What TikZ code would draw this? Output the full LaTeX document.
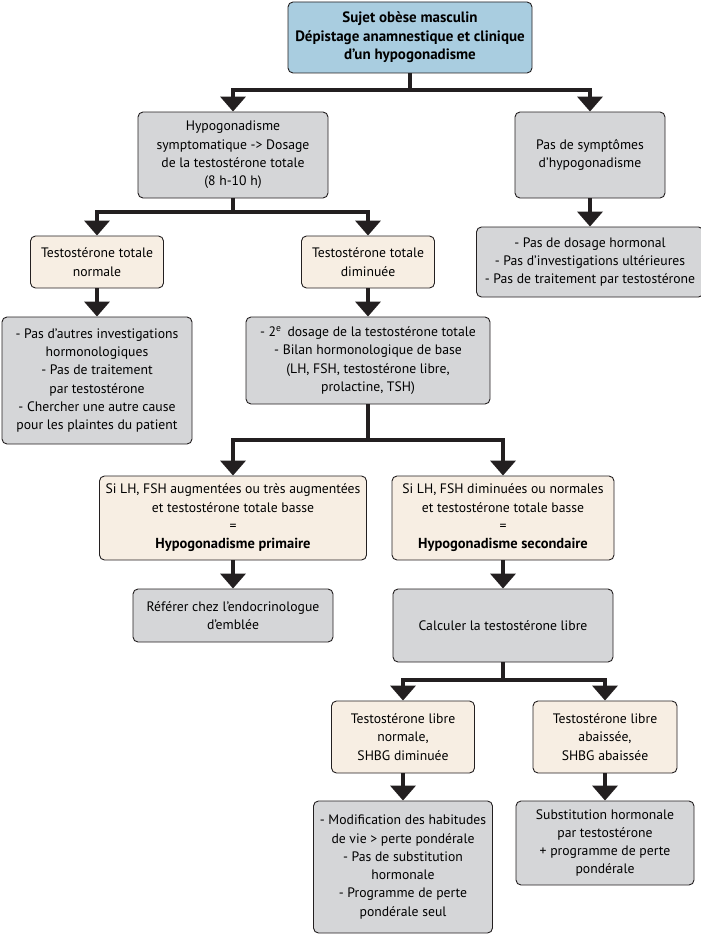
\documentclass[tikz,border=0pt]{standalone}
\usepackage{fontspec}
\setmainfont{PT Sans}
\usetikzlibrary{arrows.meta,positioning}
\definecolor{sky}{HTML}{A9CDE0}
\definecolor{ash}{HTML}{D5D6D8}
\definecolor{sand}{HTML}{F7EEE3}
\definecolor{ink}{HTML}{231F20}
\newcommand{\hyplabel}[1]{{\bfseries\fontsize{14.5}{18.3}\selectfont #1}}

\begin{document}
\begin{tikzpicture}[x=1pt,y=-1pt,
box/.style={draw=ink,line width=0.9pt,rounded corners=5pt,align=center,inner sep=1pt,font=\fontsize{13.7}{18.3}\selectfont},
size/.style 2 args={minimum width=#1pt,minimum height=#2pt},
head/.style={box,fill=sky,font=\bfseries\fontsize{15}{18.5}\selectfont},
grey/.style={box,fill=ash},
tan/.style={box,fill=sand},
link/.style={line width=4pt,ink},
flow/.style={link,-{Triangle[width=25pt,length=15pt]}}]
\useasboundingbox (0,0) rectangle (701,934);
% boxes
\node[head,size={244}{71}] (obese) at (410,37.5) {Sujet obèse masculin\\Dépistage anamnestique et clinique\\d’un hypogonadisme};
\node[grey,size={190}{86}] (sympt) at (233,155) {Hypogonadisme\\symptomatique -> Dosage\\de la testostérone totale\\(8 h-10 h)};
\node[grey,size={150}{86}] (nosympt) at (590,155) {Pas de symptômes\\d’hypogonadisme};
\node[grey,size={227}{70}] (nodose) at (590,262) {- Pas de dosage hormonal\\- Pas d’investigations ultérieures\\- Pas de traitement par testostérone};
\node[tan,size={133}{52}] (ttnorm) at (97,262) {Testostérone totale\\normale};
\node[tan,size={133}{52}] (ttlow) at (368,262) {Testostérone totale\\diminuée};
\node[grey,size={190}{127}] (noinv) at (97,380.5) {- Pas d’autres investigations\\hormonologiques\\- Pas de traitement\\par testostérone\\- Chercher une autre cause\\pour les plaintes du patient};
\node[grey,size={244}{87}] (second) at (368,360.5) {- 2\textsuperscript{e}\, dosage de la testostérone totale\\- Bilan hormonologique de base\\(LH, FSH, testostérone libre,\\prolactine, TSH)};
\node[tan,size={267}{84}] (prim) at (233,518) {Si LH, FSH augmentées ou très augmentées\\et testostérone totale basse\\=\\\hyplabel{Hypogonadisme primaire}};
\node[tan,size={222}{84}] (sec) at (503,518) {Si LH, FSH diminuées ou normales\\et testostérone totale basse\\=\\\hyplabel{Hypogonadisme secondaire}};
\node[grey,size={200}{53}] (endo) at (233,615.5) {Référer chez l’endocrinologue\\d’emblée};
\node[grey,size={220}{73}] (calc) at (503,625.5) {Calculer la testostérone libre};
\node[tan,size={143}{72}] (freenorm) at (403,737) {Testostérone libre\\normale,\\SHBG diminuée};
\node[tan,size={144}{72}] (freelow) at (605,737) {Testostérone libre\\abaissée,\\SHBG abaissée};
\node[grey,size={179}{132}] (life) at (403,867) {- Modification des habitudes\\de vie > perte pondérale\\- Pas de substitution\\hormonale\\- Programme de perte\\pondérale seul};
\node[grey,size={178}{84}] (subst) at (605,843) {Substitution hormonale\\par testostérone\\+ programme de perte\\pondérale};
% junctions
\coordinate (j1) at (410,90);
\coordinate (j2) at (233,212);
\coordinate (j3) at (368,440);
\coordinate (j4) at (503,680);
% connectors
\draw[link] (obese.south) -- (j1);
\draw[flow] (j1) -| (sympt.north);
\draw[flow] (j1) -| (nosympt.north);
\draw[flow] (nosympt.south) -- (nodose.north);
\draw[link] (sympt.south) -- (j2);
\draw[flow] (j2) -| (ttnorm.north);
\draw[flow] (j2) -| (ttlow.north);
\draw[flow] (ttnorm.south) -- (noinv.north);
\draw[flow] (ttlow.south) -- (second.north);
\draw[link] (second.south) -- (j3);
\draw[flow] (j3) -| (prim.north);
\draw[flow] (j3) -| (sec.north);
\draw[flow] (prim.south) -- (endo.north);
\draw[flow] (sec.south) -- (calc.north);
\draw[link] (calc.south) -- (j4);
\draw[flow] (j4) -| (freenorm.north);
\draw[flow] (j4) -| (freelow.north);
\draw[flow] (freenorm.south) -- (life.north);
\draw[flow] (freelow.south) -- (subst.north);
\end{tikzpicture}
\end{document}
